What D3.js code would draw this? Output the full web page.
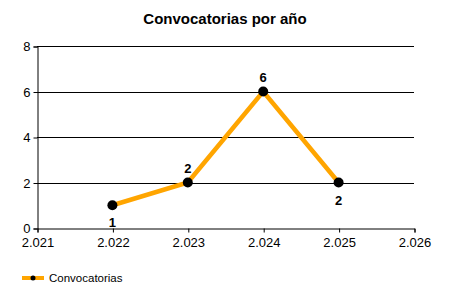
<!DOCTYPE html>
<html>
<head>
<meta charset="utf-8">
<script src="https://cdn.jsdelivr.net/npm/d3@7"></script>
<style>
  body { margin: 0; background: #fff; }
  text { font-family: "Liberation Sans", Arial, sans-serif; }
</style>
</head>
<body>
<svg id="chart" width="450" height="300"></svg>
<script>
// data
var years = [2022, 2023, 2024, 2025];
var counts = [1, 2, 6, 2];
var seriesName = "Convocatorias";
var xTicks = [2021, 2022, 2023, 2024, 2025, 2026];
var yTicks = [0, 2, 4, 6, 8];

var svg = d3.select("#chart");

var x = d3.scaleLinear().domain([2021, 2026]).range([37, 414]);
var y = d3.scaleLinear().domain([0, 8]).range([228, 46]);

// year labels use a dot as thousands separator, like 2.022
var fmtYear = function (d) { return String(d).replace(/^(\d)(\d{3})$/, "$1.$2"); };

svg.append("text")
  .attr("x", 225).attr("y", 24)
  .attr("text-anchor", "middle")
  .style("font-size", "15px").style("font-weight", "bold")
  .text("Convocatorias por año");

// horizontal grid
svg.append("g").selectAll("line")
  .data(yTicks.filter(function (d) { return d > 0; }))
  .join("line")
  .attr("x1", x(2021)).attr("x2", x(2026))
  .attr("y1", function (d) { return Math.round(y(d)) + 0.5; })
  .attr("y2", function (d) { return Math.round(y(d)) + 0.5; })
  .attr("stroke", "#000");

var yAxis = svg.append("g")
  .attr("transform", "translate(" + (x(2021) + 0.5) + ",0.5)")
  .call(d3.axisLeft(y).tickValues(yTicks).tickSize(4).tickPadding(3));

var xAxis = svg.append("g")
  .attr("transform", "translate(0.5," + (y(0) + 0.5) + ")")
  .call(d3.axisBottom(x).tickValues(xTicks).tickSize(4).tickPadding(5).tickFormat(fmtYear));

[yAxis, xAxis].forEach(function (a) {
  a.select(".domain").attr("stroke", "#000");
  a.selectAll(".tick line").attr("stroke", "#000");
  a.selectAll("text").attr("fill", "#000").style("font-size", "13px");
});

var pts = years.map(function (d, i) { return { x: d, y: counts[i], i: i }; });

svg.append("path")
  .datum(pts)
  .attr("fill", "none")
  .attr("stroke", "#FFA500")
  .attr("stroke-width", 4.5)
  .attr("stroke-linejoin", "miter")
  .attr("d", d3.line().x(function (d) { return x(d.x); }).y(function (d) { return y(d.y); }));

svg.append("g").selectAll("circle")
  .data(pts)
  .join("circle")
  .attr("cx", function (d) { return x(d.x); })
  .attr("cy", function (d) { return y(d.y); })
  .attr("r", 5)
  .attr("fill", "#000");

// value labels: above when the line rose into the point, otherwise below
svg.append("g").selectAll("text")
  .data(pts)
  .join("text")
  .attr("x", function (d) { return x(d.x); })
  .attr("y", function (d) {
    var above = d.i > 0 && d.y > counts[d.i - 1];
    return y(d.y) + (above ? -10 : 22);
  })
  .attr("text-anchor", "middle")
  .style("font-size", "13px").style("font-weight", "bold")
  .text(function (d) { return d.y; });

// legend
var lg = svg.append("g").attr("transform", "translate(22,278)");
lg.append("line").attr("x1", 0).attr("x2", 22).attr("stroke", "#FFA500").attr("stroke-width", 4);
lg.append("circle").attr("cx", 11).attr("r", 2.5).attr("fill", "#000");
lg.append("text").attr("x", 27).attr("y", 4).style("font-size", "11.5px").text(seriesName);
</script>
</body>
</html>
